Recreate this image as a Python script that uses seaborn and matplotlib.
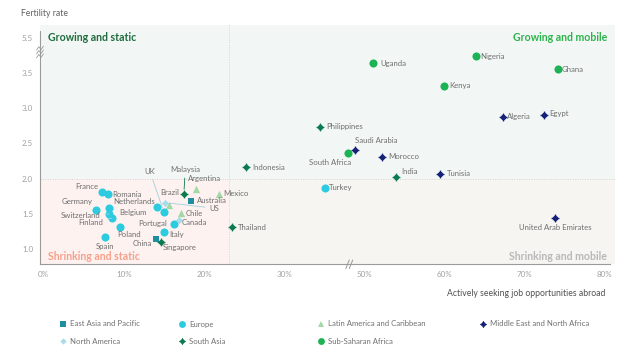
import numpy as np
import pandas as pd
import seaborn as sns
import matplotlib.pyplot as plt
from matplotlib.lines import Line2D
from matplotlib.path import Path

# ===============================
# DATA
# ===============================
countries = [
    "France", "Romania", "Germany", "Belgium", "Switzerland", "Finland", "Poland",
    "Spain", "Netherlands", "UK", "Portugal", "Italy", "Turkey",
    "Australia", "China",
    "Brazil", "Argentina", "Mexico", "Chile",
    "US", "Canada",
    "Malaysia", "Singapore", "Thailand", "Indonesia", "Philippines", "India",
    "Saudi Arabia", "Morocco", "Tunisia", "Algeria", "Egypt", "United Arab Emirates",
    "Uganda", "Nigeria", "Ghana", "Kenya", "South Africa",
]
regions = (
    ["Europe"] * 13
    + ["East Asia and Pacific"] * 2
    + ["Latin America and Caribbean"] * 4
    + ["North America"] * 2
    + ["South Asia"] * 6
    + ["Middle East and North Africa"] * 6
    + ["Sub-Saharan Africa"] * 5
)
seeking_abroad = [
    7.3, 8.1, 6.5, 8.2, 8.2, 8.5, 9.5, 7.7, 14.2, 15.0, 16.3, 15.0, 40.2,
    18.4, 14.0,
    15.7, 19.0, 21.9, 17.2,
    15.2, 16.9,
    17.5, 14.7, 23.5, 25.3, 39.0, 53.9,
    47.8, 52.2, 59.4, 67.3, 72.4, 73.8,
    51.1, 63.9, 74.1, 59.9, 46.0,
]
fertility = [
    1.81, 1.78, 1.56, 1.58, 1.50, 1.44, 1.31, 1.17, 1.60, 1.53, 1.36, 1.24, 1.87,
    1.69, 1.14,
    1.62, 1.86, 1.79, 1.51,
    1.66, 1.41,
    1.79, 1.10, 1.31, 2.16, 2.74, 2.02,
    2.41, 2.31, 2.07, 2.88, 2.90, 1.44,
    4.06, 4.46, 3.70, 3.32, 2.36,
]

region_order = [
    "East Asia and Pacific", "Europe", "Latin America and Caribbean",
    "Middle East and North Africa", "North America", "South Asia", "Sub-Saharan Africa",
]
region_colors = ["#1f8ea3", "#2ccbe0", "#a3d9a8", "#16217a", "#a8dce8", "#0b7a50", "#1db355"]

x_ticks = [0, 10, 20, 30, 50, 60, 70, 80]
y_ticks = [1.0, 1.5, 2.0, 2.5, 3.0, 3.5, 5.5]

# label offsets in points (dx, dy, ha, leader line)
label_pos = {
    "France": (-3, 4, "right", False), "Romania": (3, 0, "left", False),
    "Germany": (-2, 6, "right", False), "Belgium": (7, -3, "left", True),
    "Switzerland": (-6, -1, "right", True), "Finland": (-6, -3, "right", True),
    "Poland": (-2, -5, "left", False), "Spain": (0, -7, "center", False),
    "Netherlands": (-2, 4, "right", False), "UK": (-10, 29, "center", True),
    "Portugal": (-5, 0, "right", False), "Italy": (4, -1.5, "left", False),
    "Turkey": (3, 0, "left", False), "Australia": (4, 0, "left", False),
    "China": (-3, -3, "right", False), "Brazil": (0, 9, "center", False),
    "Argentina": (-6, 7, "left", False), "Mexico": (3, 0, "left", False),
    "Chile": (3, 0, "left", False), "US": (32, -4, "left", True),
    "Canada": (2, -1.5, "left", False), "Malaysia": (1, 17, "center", True),
    "Singapore": (1, -4, "left", False), "Thailand": (4, 0, "left", False),
    "Indonesia": (4, 0, "left", False), "Philippines": (4, 0, "left", False),
    "India": (4, 4, "left", False), "Saudi Arabia": (15, 7, "center", False),
    "Morocco": (4.5, 0, "left", False), "Tunisia": (5, 0, "left", False),
    "Algeria": (3, 0, "left", False), "Egypt": (4, 1, "left", False),
    "United Arab Emirates": (0, -7, "center", False), "Uganda": (5, 0, "left", False),
    "Nigeria": (3, 0, "left", False), "Ghana": (3, 0, "left", False),
    "Kenya": (4, 0, "left", False), "South Africa": (2, -6.5, "right", False),
}

# ===============================
# BROKEN AXIS SCALES
# ===============================
def fwd_x(v):
    v = np.asarray(v, dtype=float)
    return np.where(v <= 30, v, np.where(v < 50, 30 + (v - 30) / 2, v - 10))

def inv_x(p):
    p = np.asarray(p, dtype=float)
    return np.where(p <= 30, p, np.where(p < 40, 30 + (p - 30) * 2, p + 10))

def fwd_y(v):
    v = np.asarray(v, dtype=float)
    return np.where(v <= 3.5, v, np.where(v < 5.5, 3.5 + (v - 3.5) / 4, v - 1.5))

def inv_y(p):
    p = np.asarray(p, dtype=float)
    return np.where(p <= 3.5, p, np.where(p < 4.0, 3.5 + (p - 3.5) * 4, p + 1.5))

# cross-diamond marker (fat diamond with small nubs at the tips)
w, d = 0.16, 0.95
cross_diamond = Path([
    (-w, 1), (w, 1), (w, d - w), (d - w, w), (1, w), (1, -w),
    (d - w, -w), (w, -(d - w)), (w, -1), (-w, -1), (-w, -(d - w)),
    (-(d - w), -w), (-1, -w), (-1, w), (-(d - w), w), (-w, d - w), (-w, 1),
], closed=True)

markers = {
    "East Asia and Pacific": "s", "Europe": "o", "Latin America and Caribbean": "^",
    "Middle East and North Africa": cross_diamond, "North America": "D",
    "South Asia": cross_diamond, "Sub-Saharan Africa": "o",
}
sizes = {
    "East Asia and Pacific": 22, "Europe": 34, "Latin America and Caribbean": 28,
    "Middle East and North Africa": 32, "North America": 14,
    "South Asia": 32, "Sub-Saharan Africa": 34,
}

df = pd.DataFrame({"Country": countries, "Region": regions,
                   "Seeking": seeking_abroad, "Fertility": fertility})

# ===============================
# PLOT
# ===============================
sns.set_style("white")
plt.rcParams["font.family"] = ["Lato", "DejaVu Sans"]

fig = plt.figure(figsize=(6.4, 3.53), dpi=100)
ax = fig.add_axes([40 / 640, 1 - 264.3 / 353, 575 / 640, (264.3 - 25) / 353])
ax.set_xscale("function", functions=(fwd_x, inv_x))
ax.set_yscale("function", functions=(fwd_y, inv_y))

x_min, x_max = -0.44, 81.26
y_min, y_max = 0.786, 5.68
x_split, y_split = 23.1, 2.0

# quadrant backgrounds
ax.fill_between([x_min, x_max], y_split, y_max, color="#f2f7f5", lw=0, zorder=0)
ax.fill_between([x_min, x_split], y_min, y_split, color="#fdf2f0", lw=0, zorder=0)
ax.fill_between([x_split, x_max], y_min, y_split, color="#f6f5f1", lw=0, zorder=0)
ax.axvline(x_split, color="#d4d4d4", lw=0.7, ls=(0, (1, 1.5)), zorder=1)
ax.axhline(y_split, color="#d4d4d4", lw=0.7, ls=(0, (1, 1.5)), zorder=1)

palette = dict(zip(region_order, region_colors))
for reg in region_order:
    sub = df[df["Region"] == reg]
    sns.scatterplot(data=sub, x="Seeking", y="Fertility", color=palette[reg],
                    marker=markers[reg], s=sizes[reg], linewidth=0, ax=ax,
                    legend=False, zorder=3)

for c, xv, yv in zip(countries, seeking_abroad, fertility):
    dx, dy, ha, line = label_pos[c]
    kw = {}
    if line:
        kw["arrowprops"] = dict(arrowstyle="-", color="#9fd0de" if c in ("UK", "US", "Belgium", "Switzerland", "Finland") else "#0b7a50",
                                lw=0.6, shrinkA=1, shrinkB=3)
    ax.annotate(c, (xv, yv), xytext=(dx, dy), textcoords="offset points",
                ha=ha, va="center", fontsize=5.6, color="#6e6e6e", zorder=4, **kw)

ax.set_xlim(x_min, x_max)
ax.set_ylim(y_min, y_max)
ax.set_xticks(x_ticks)
ax.set_xticklabels([f"{t}%" for t in x_ticks])
ax.set_yticks(y_ticks)
ax.set_yticklabels([f"{t:.1f}" for t in y_ticks])
ax.tick_params(length=0, labelsize=5.8, labelcolor="#a0a0a0", pad=5)
ax.set_xlabel("")
ax.set_ylabel("")

for side in ["top", "right"]:
    ax.spines[side].set_visible(False)
for side in ["left", "bottom"]:
    ax.spines[side].set_color("#9a9a9a")
    ax.spines[side].set_linewidth(0.8)
ax.spines["left"].set_bounds(y_min, 5.6)
ax.spines["bottom"].set_bounds(x_min, 80.6)

# break marks
bx = (351 - 40) / 575
for off in (-0.006, 0.0):
    ax.plot([bx + off - 0.003, bx + off + 0.003], [-0.018, 0.018], transform=ax.transAxes,
            color="#9a9a9a", lw=0.7, clip_on=False, zorder=5)
by = 1 - (52 - 25) / (264.3 - 25)
for off in (-0.016, 0.0, 0.016):
    ax.plot([-0.006, -0.002, 0.002, 0.006], [by + off - 0.008, by + off + 0.006, by + off - 0.006, by + off + 0.008],
            transform=ax.transAxes, color="#9a9a9a", lw=0.6, clip_on=False, zorder=5)

# quadrant titles
ax.text(8 / 575, 1 - 12.5 / 239.3, "Growing and static", transform=ax.transAxes,
        fontsize=7.6, fontweight="bold", color="#1f6b3d", va="center", ha="left")
ax.text(567 / 575, 1 - 12.5 / 239.3, "Growing and mobile", transform=ax.transAxes,
        fontsize=7.6, fontweight="bold", color="#2db34c", va="center", ha="right")
ax.text(8 / 575, 7.5 / 239.3, "Shrinking and static", transform=ax.transAxes,
        fontsize=7.6, fontweight="bold", color="#f5a08b", va="center", ha="left")
ax.text(567 / 575, 7.5 / 239.3, "Shrinking and mobile", transform=ax.transAxes,
        fontsize=7.6, fontweight="bold", color="#b8b8b8", va="center", ha="right")

fig.text(21 / 640, 1 - 13 / 353, "Fertility rate", fontsize=6.2, color="#606060", va="center")
fig.text(605 / 640, 1 - 293 / 353, "Actively seeking job opportunities abroad",
         fontsize=6.2, color="#505050", va="center", ha="right")

# legend in four columns
columns = [
    (62, ["East Asia and Pacific", "North America"]),
    (181, ["Europe", "South Asia"]),
    (320, ["Latin America and Caribbean", "Sub-Saharan Africa"]),
    (482, ["Middle East and North Africa"]),
]
for x_px, regs in columns:
    handles = [Line2D([], [], ls="", marker=markers[r], color=palette[r],
                      markersize=np.sqrt(sizes[r]) * 0.85, markeredgewidth=0) for r in regs]
    fig.legend(handles, regs, loc="upper left", bbox_to_anchor=((x_px - 3) / 640, 1 - 320.5 / 353),
               frameon=False, fontsize=5.6, labelcolor="#707070", handlelength=0.9,
               handletextpad=0.5, labelspacing=1.35, borderpad=0, borderaxespad=0)

fig.savefig("out.png", dpi=100)
